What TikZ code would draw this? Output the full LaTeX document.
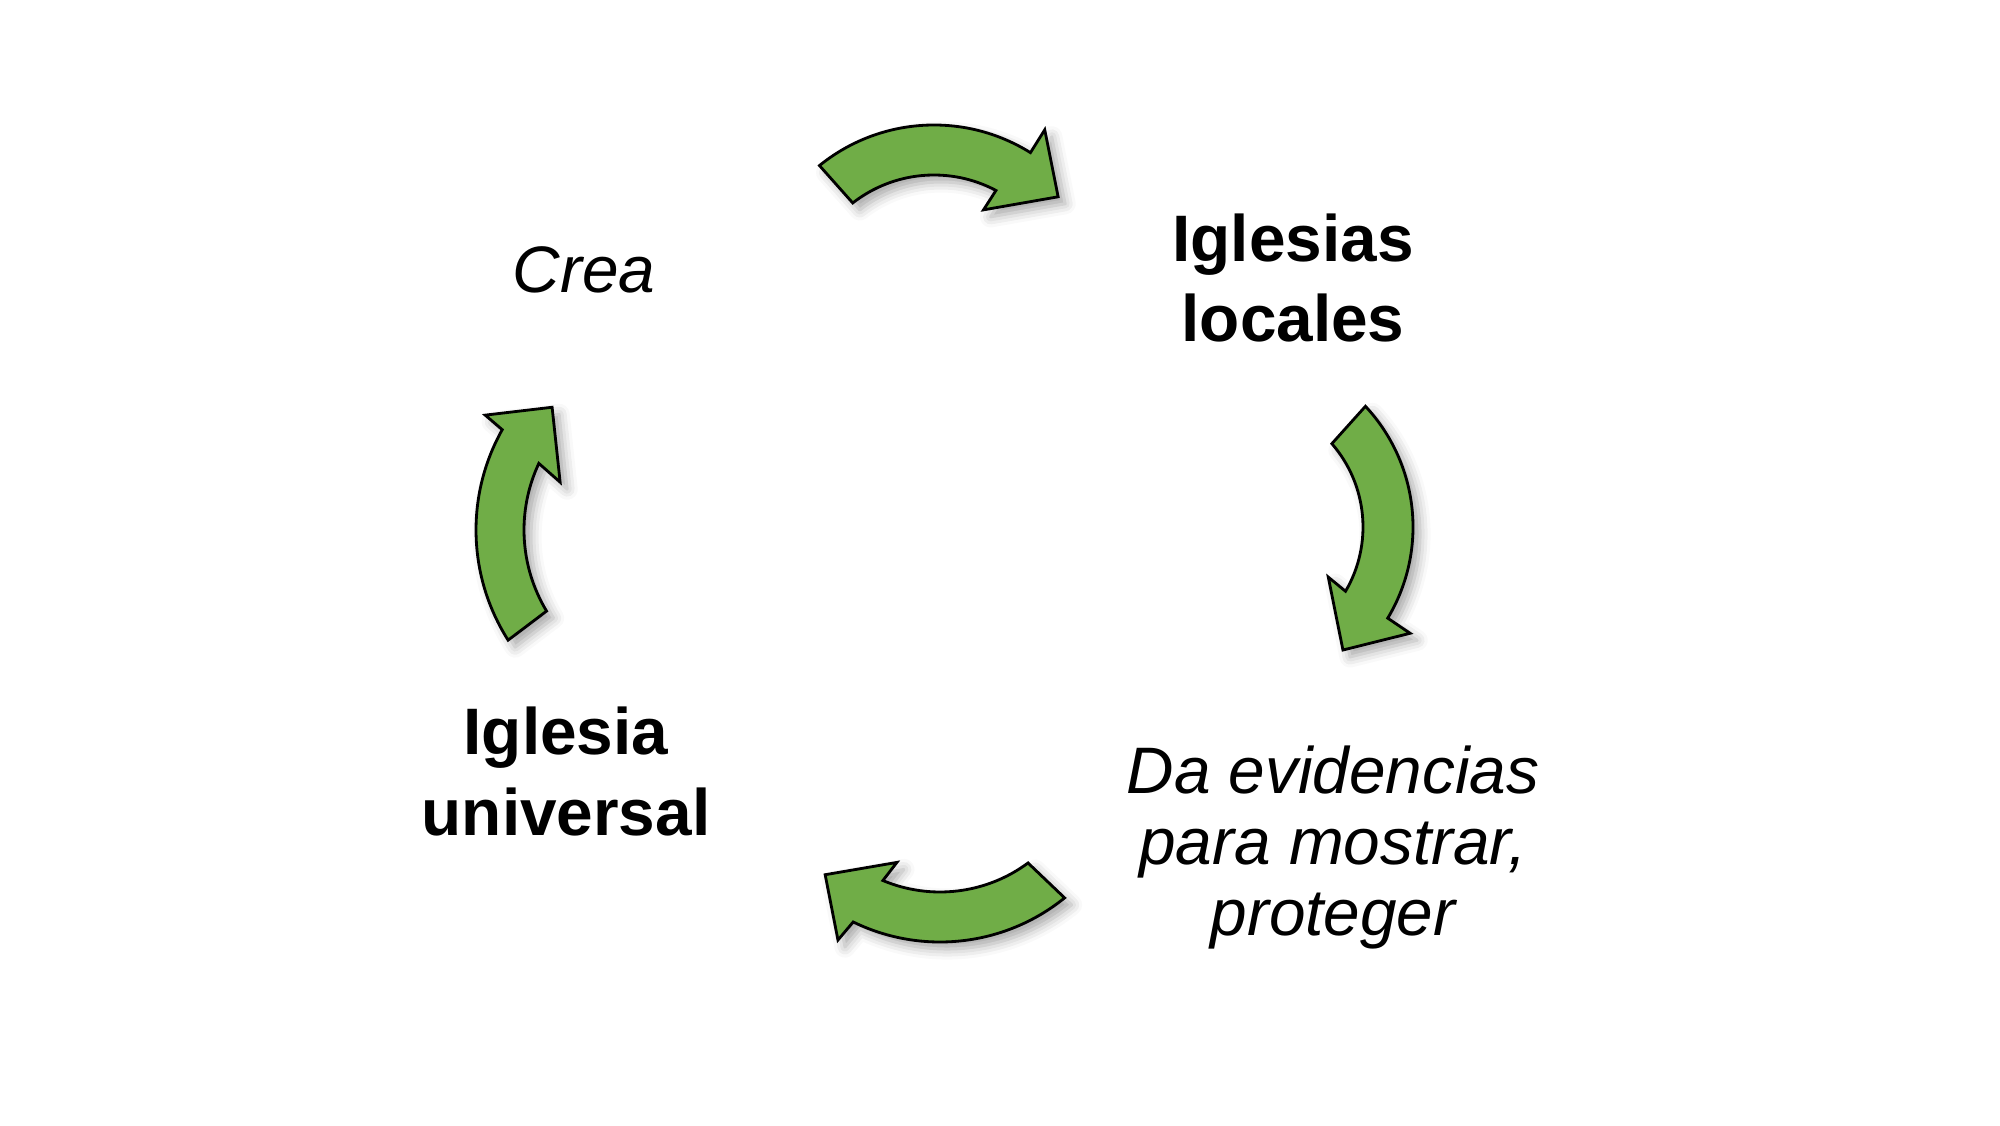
\documentclass[tikz,border=0pt]{standalone}
\usepackage{fontspec}
\setmainfont{Liberation Sans}
\usetikzlibrary{shadows.blur}

\definecolor{arrowgreen}{RGB}{112,173,71}

\begin{document}
\begin{tikzpicture}[
cyclearrow/.style={
	% The border:
	line width=0.8pt,
	draw=black,
	line join=miter,
	% The filling:
	fill=arrowgreen,
	% The shadow:
	blur shadow={shadow xshift=2pt, shadow yshift=-2pt,
		shadow blur radius=3pt, shadow opacity=35}},
boldlabel/.style={
	% Font
	font=\fontsize{18.7}{23}\selectfont\bfseries,
	align=center, inner sep=0pt, anchor=base},
italiclabel/.style={
	% Font
	font=\fontsize{18.7}{20.2}\selectfont\itshape,
	align=center, inner sep=0pt, anchor=base},
]
\useasboundingbox (0,0) rectangle (20,11.25);

% centres of the four curved arrows
\coordinate (topc) at (9.34,8.18);
\coordinate (rightc) at (12.36,5.98);
\coordinate (bottomc) at (9.40,3.81);
\coordinate (leftc) at (6.81,5.95);

% the labels (base = baseline of the last line)
\node (crea) [italiclabel] at (5.84,8.32) {Crea};
\node (locales) [boldlabel] at (12.93,7.83) {Iglesias\\locales};
\node (evidencias) [italiclabel] at (13.33,1.90) {Da evidencias\\para mostrar,\\proteger};
\node (universal) [boldlabel] at (5.66,2.90) {Iglesia\\universal};

% the arrows, clockwise
\begin{scope}[shift={(topc)}]
\draw[cyclearrow] (129:1.82) arc[start angle=129, end angle=58, radius=1.82]
	-- (58:2.09) -- (41.6:1.66) -- (63:1.09) -- (62:1.32)
	arc[start angle=62, end angle=128, radius=1.32] -- cycle;
\end{scope}
\begin{scope}[shift={(rightc)}]
\draw[cyclearrow] (43:1.77) arc[start angle=43, end angle=-31, radius=1.77]
	-- (-31.4:2.04) -- (-49:1.63) -- (-28.5:1.05) -- (-30.4:1.27)
	arc[start angle=-30.4, end angle=41, radius=1.27] -- cycle;
\end{scope}
\begin{scope}[shift={(bottomc)}]
\draw[cyclearrow] (-51:1.98) arc[start angle=-51, end angle=-116, radius=1.98]
	-- (-117.5:2.21) -- (-131.3:1.74) -- (-110:1.26) -- (-112.7:1.48)
	arc[start angle=-112.7, end angle=-53.5, radius=1.48] -- cycle;
\end{scope}
\begin{scope}[shift={(leftc)}]
\draw[cyclearrow] (212.5:2.05) arc[start angle=212.5, end angle=150.7, radius=2.05]
	-- (149.6:2.27) -- (136.4:1.78) -- (158.4:1.30) -- (154.9:1.57)
	arc[start angle=154.9, end angle=211.1, radius=1.57] -- cycle;
\end{scope}
\end{tikzpicture}
\end{document}
